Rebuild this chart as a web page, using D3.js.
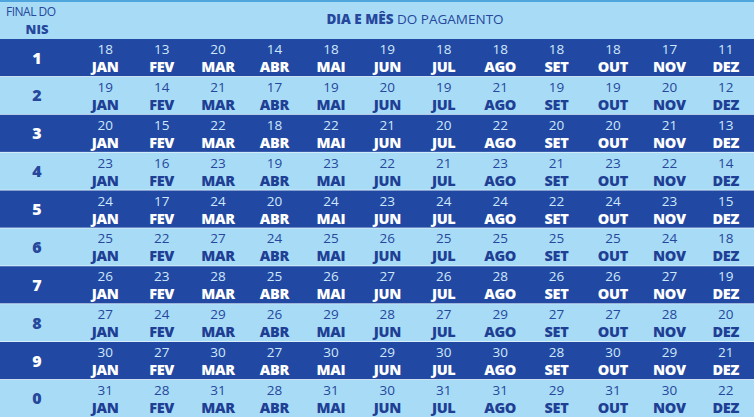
<!DOCTYPE html>
<html><head><meta charset="utf-8">
<script src="https://cdn.jsdelivr.net/npm/d3@7"></script>
<style>body{margin:0;background:#a8dcf6}svg{display:block}</style></head>
<body><svg id="c" width="754" height="417"></svg>
<script>
const nis = ["1","2","3","4","5","6","7","8","9","0"];
const months = ["JAN","FEV","MAR","ABR","MAI","JUN","JUL","AGO","SET","OUT","NOV","DEZ"];
const day1 = [18,13,20,14,18,19,18,18,18,18,17,11];
const day2 = [19,14,21,17,19,20,19,21,19,19,20,12];
const day3 = [20,15,22,18,22,21,20,22,20,20,21,13];
const day4 = [23,16,23,19,23,22,21,23,21,23,22,14];
const day5 = [24,17,24,20,24,23,24,24,22,24,23,15];
const day6 = [25,22,27,24,25,26,25,25,25,25,24,18];
const day7 = [26,23,28,25,26,27,26,28,26,26,27,19];
const day8 = [27,24,29,26,29,28,27,29,27,27,28,20];
const day9 = [30,27,30,27,30,29,30,30,28,30,29,21];
const day0 = [31,28,31,28,31,30,31,31,29,31,30,22];
const days = [day1,day2,day3,day4,day5,day6,day7,day8,day9,day0];

const svg = d3.select("#c");
const dark="#2148a2", light="#a8dcf6", txtDark="#26479c";
const y = d3.scaleBand().domain(nis).range([39,417]).paddingInner(0.02);
const x = d3.scaleBand().domain(months).range([77,754]);
const font="'Open Sans', sans-serif";

svg.append("rect").attr("width",754).attr("height",39).attr("fill",light);
svg.append("rect").attr("width",754).attr("height",2).attr("fill","#4fa6dc");
svg.append("text").attr("x",6).attr("y",16).attr("font-family",font).attr("font-size",12)
  .attr("fill",txtDark).attr("letter-spacing",-0.5).text("FINAL DO");
svg.append("text").attr("x",37).attr("y",34).attr("text-anchor","middle").attr("font-family",font)
  .attr("font-size",13).attr("font-weight",800).attr("fill",txtDark).text("NIS");
const h = svg.append("text").attr("x",415).attr("y",24).attr("text-anchor","middle").attr("font-family",font)
  .attr("font-size",13.5).attr("fill",txtDark);
h.append("tspan").attr("font-weight",800).text("DIA E MÊS ");
h.append("tspan").text("DO PAGAMENTO");

svg.append("rect").attr("y",39).attr("width",754).attr("height",378).attr("fill","#e8f5fc");
const rows = svg.selectAll("g.r").data(nis).join("g").attr("class","r")
  .attr("transform",d=>`translate(0,${y(d)})`);
rows.append("rect").attr("width",754).attr("height",y.bandwidth())
  .attr("fill",(d,i)=>i%2===0?dark:light);
rows.append("text").attr("x",37).attr("y",y.bandwidth()/2+6).attr("text-anchor","middle")
  .attr("font-family",font).attr("font-size",16).attr("font-weight",800)
  .attr("fill",(d,i)=>i%2===0?"#ffffff":txtDark).text(d=>d);
rows.each(function(d,i){
  const g=d3.select(this);
  const isDark=i%2===0;
  const cells=g.selectAll("g.c").data(months.map((m,j)=>({m,v:days[i][j]}))).join("g")
    .attr("transform",c=>`translate(${x(c.m)+x.bandwidth()/2},0)`);
  cells.append("text").attr("y",15).attr("text-anchor","middle").attr("font-family",font)
    .attr("font-size",13.5).attr("fill",isDark?"#cfe9fb":txtDark).text(c=>c.v);
  cells.append("text").attr("y",33).attr("text-anchor","middle").attr("font-family",font)
    .attr("font-size",14.5).attr("font-weight",800).attr("letter-spacing",-0.3)
    .attr("fill",isDark?"#ffffff":"#1f3f95").text(c=>c.m);
});
</script></body></html>
